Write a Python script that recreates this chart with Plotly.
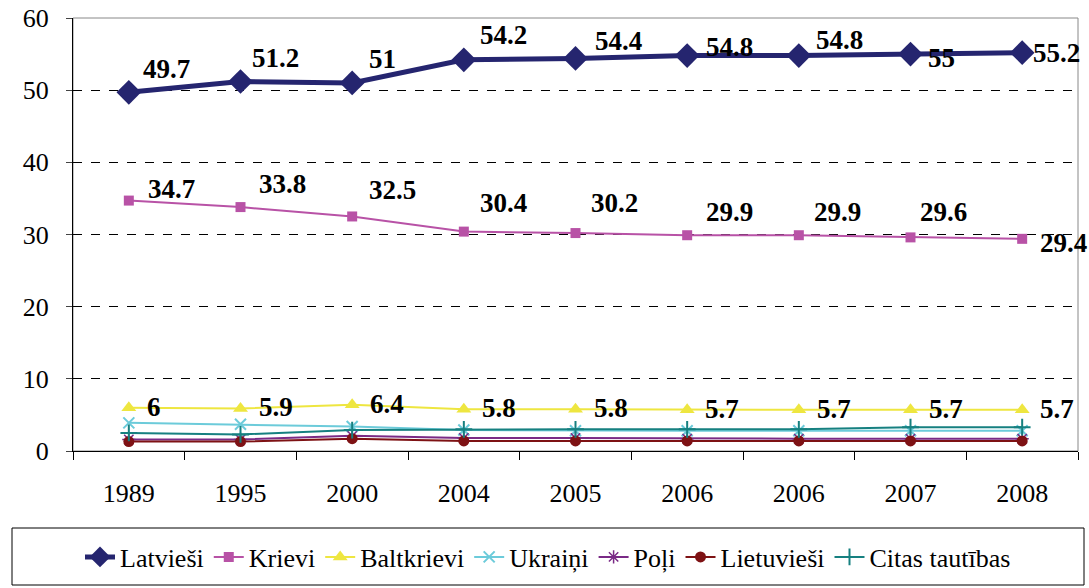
import plotly.graph_objects as go

years = ["1989", "1995", "2000", "2004", "2005", "2006", "2006", "2007", "2008"]
latviesi = [49.7, 51.2, 51, 54.2, 54.4, 54.8, 54.8, 55, 55.2]
krievi = [34.7, 33.8, 32.5, 30.4, 30.2, 29.9, 29.9, 29.6, 29.4]
baltkrievi = [6, 5.9, 6.4, 5.8, 5.8, 5.7, 5.7, 5.7, 5.7]
ukraini = [3.9, 3.7, 3.4, 2.9, 2.8, 2.8, 2.8, 2.8, 2.8]
poli = [1.6, 1.6, 2.1, 1.8, 1.8, 1.7, 1.7, 1.7, 1.7]
lietuviesi = [1.3, 1.3, 1.7, 1.4, 1.4, 1.4, 1.4, 1.4, 1.4]
citas = [2.5, 2.3, 2.9, 3.0, 3.0, 3.0, 3.0, 3.3, 3.3]

xpos = list(range(len(years)))
FONT = "Liberation Serif"

W, H = 1089, 588
L, T, R, B = 73, 18, 11, 137
PW, PH = W - L - R, H - T - B

fig = go.Figure()

def add(name, vals, color, width, symbol, size, mline=None):
    fig.add_trace(go.Scatter(
        x=xpos, y=vals, name=name, mode="lines+markers",
        line=dict(color=color, width=width),
        marker=dict(symbol=symbol, size=size, color=color,
                    line=dict(color=color, width=mline if mline else 0)),
    ))

add("Latvieši", latviesi, "#25256F", 5, "diamond", 19)
add("Krievi", krievi, "#B852A6", 2, "square", 10)
add("Baltkrievi", baltkrievi, "#EEE640", 2, "triangle-up", 13)
add("Ukraiņi", ukraini, "#6CCBDA", 2, "x-thin-open", 11, 2)
add("Poļi", poli, "#7A2A86", 2, "asterisk-open", 11, 1.5)
add("Lietuvieši", lietuviesi, "#7E1214", 2, "circle", 11)
add("Citas tautības", citas, "#168080", 2, "cross-thin-open", 12, 2)

lab_font = dict(family=FONT, size=27, color="black", weight="bold")
lat_off = [(38, 23), (35, 24), (30, 24), (40, 25), (43, 17), (42, 9), (41, 16), (31, -4), (34, 0)]
kr_off = [(43, 12), (42, 23), (40, 26), (40, 29), (39, 30), (42, 23), (39, 23), (33, 25), (41, -4)]
anns = []
for i, v in enumerate(latviesi):
    dx, dy = lat_off[i]
    anns.append(dict(x=i, y=v, text=str(v), showarrow=False,
                     xshift=dx, yshift=dy, font=lab_font))
for i, v in enumerate(krievi):
    dx, dy = kr_off[i]
    anns.append(dict(x=i, y=v, text=str(v), showarrow=False,
                     xshift=dx, yshift=dy, font=lab_font))
for i, v in enumerate(baltkrievi):
    anns.append(dict(x=i, y=v, text=str(v), showarrow=False,
                     xshift=16, yshift=1, xanchor="left", font=lab_font))

fig.update_layout(
    width=W, height=H,
    margin=dict(l=L, r=R, t=T, b=B, autoexpand=False),
    paper_bgcolor="white", plot_bgcolor="white",
    font=dict(family=FONT, size=26, color="black"),
    showlegend=True,
    legend=dict(orientation="h", xref="container", yref="container",
                x=548 / W, xanchor="center", y=1 - 557 / H, yanchor="middle",
                borderwidth=0, font=dict(size=26), bgcolor="rgba(0,0,0,0)"),
    annotations=anns,
    xaxis=dict(range=[-0.5, 8.5], tickmode="array", tickvals=xpos, ticktext=years,
               showgrid=False, zeroline=False, showline=True, linecolor="black",
               linewidth=1, ticks="", automargin=False, ticklabelstandoff=19,
               ticklabeloverflow="allow",
               minor=dict(ticks="outside", tick0=0.5, dtick=1, ticklen=8,
                          tickcolor="black", showgrid=False)),
    yaxis=dict(range=[0, 60], dtick=10, showgrid=True, gridcolor="black",
               griddash="dash", gridwidth=1, zeroline=False, showline=True,
               linecolor="black", linewidth=1, ticks="outside", ticklen=6,
               automargin=False, ticklabelstandoff=12, ticklabeloverflow="allow"),
    shapes=[
        dict(type="rect", xref="paper", yref="paper", x0=0, x1=1, y0=0, y1=1,
             line=dict(color="#888888", width=1), layer="below"),
        dict(type="rect", xref="paper", yref="paper",
             x0=(12 - L) / PW, x1=(1084 - L) / PW,
             y0=(H - B - 585) / PH, y1=(H - B - 528) / PH,
             line=dict(color="black", width=1)),
    ],
)

fig.write_html("out.html", config={"displayModeBar": False},
               post_script="document.body.style.margin='0';document.body.style.padding='0';")
